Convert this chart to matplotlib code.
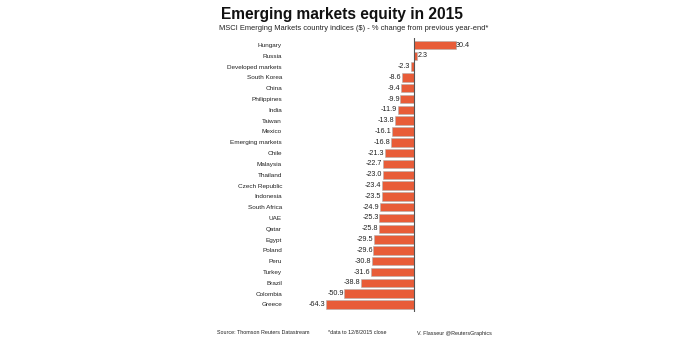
import matplotlib
matplotlib.use("Agg")
import matplotlib.pyplot as plt

countries = ["Hungary", "Russia", "Developed markets", "South Korea", "China", "Philippines",
             "India", "Taiwan", "Mexico", "Emerging markets", "Chile", "Malaysia", "Thailand",
             "Czech Republic", "Indonesia", "South Africa", "UAE", "Qatar", "Egypt", "Poland",
             "Peru", "Turkey", "Brazil", "Colombia", "Greece"]
changes = [30.4, 2.3, -2.3, -8.6, -9.4, -9.9, -11.9, -13.8, -16.1, -16.8, -21.3, -22.7, -23.0,
           -23.4, -23.5, -24.9, -25.3, -25.8, -29.5, -29.6, -30.8, -31.6, -38.8, -50.9, -64.3]

plt.rcParams['font.family'] = ['Liberation Sans', 'DejaVu Sans']
W, H = 692, 338
fig = plt.figure(figsize=(W / 100, H / 100), dpi=100)
fig.patch.set_facecolor('white')

xmin, xmax = -65, 35
left_px, px_per = 325, 1.37
width_px = (xmax - xmin) * px_per
top_px, bot_px = 38, 312
ax = fig.add_axes([left_px / W, 1 - bot_px / H, width_px / W, (bot_px - top_px) / H])
ax.set_xlim(xmin, xmax)
ax.set_ylim(24.7, -0.65)

ypos = list(range(len(countries)))
ax.barh(ypos, changes, height=0.78, color='#E85C38', edgecolor='#B0B0B0', linewidth=0.4, zorder=2)
ax.axvline(0, color='#555555', linewidth=0.8, zorder=3)

for y, v in zip(ypos, changes):
    if v >= 0:
        ax.text(v + 0.3, y, f"{v:.1f}", ha='left', va='center', fontsize=5.2, color='#222222')
    else:
        ax.text(v - 0.4, y, f"{v:.1f}", ha='right', va='center', fontsize=5.2, color='#222222')

ax.set_yticks(ypos)
ax.set_yticklabels(countries, fontsize=4.6, color='#222222')
ax.tick_params(axis='y', length=0, pad=(left_px - 282) * 0.72)
ax.set_xticks([])
for s in ax.spines.values():
    s.set_visible(False)
ax.set_facecolor('none')

fig.text(342 / W, 1 - 14 / H, "Emerging markets equity in 2015", ha='center', va='center',
         fontsize=11.2, fontweight='bold', color='#111111')
fig.text(354 / W, 1 - 28 / H, "MSCI Emerging Markets country indices ($) - % change from previous year-end*",
         ha='center', va='center', fontsize=5.4, color='#222222')
fig.text(217 / W, 1 - 333 / H, "Source: Thomson Reuters Datastream", ha='left', va='center',
         fontsize=3.9, color='#222222')
fig.text(328 / W, 1 - 333 / H, "*data to 12/8/2015 close", ha='left', va='center',
         fontsize=3.9, color='#222222')
fig.text(417 / W, 1 - 333 / H, "V. Flasseur @ReutersGraphics", ha='left', va='center',
         fontsize=3.9, color='#222222')

fig.savefig("out.png", dpi=100, facecolor='white')
